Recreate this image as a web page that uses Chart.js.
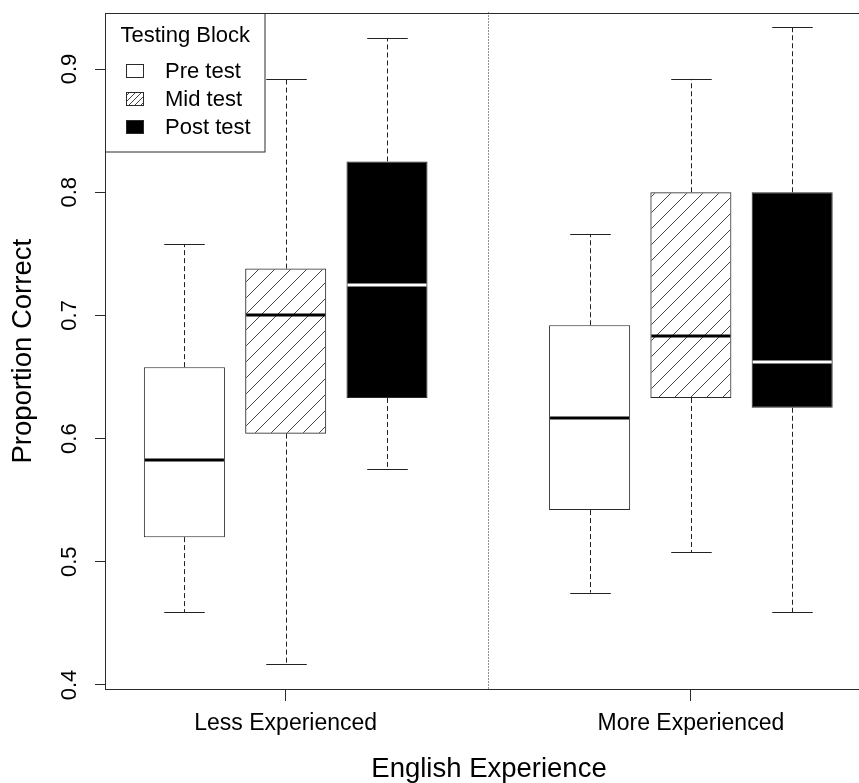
<!DOCTYPE html>
<html>
<head>
<meta charset="utf-8">
<script src="https://cdn.jsdelivr.net/npm/chart.js@4.4.1/dist/chart.umd.min.js"></script>
<style>
  html, body { margin: 0; padding: 0; background: #ffffff; overflow: hidden; }
  canvas { display: block; }
</style>
</head>
<body>
<canvas id="chart" width="872" height="783"></canvas>
<script>
// Groups along the x axis and the testing blocks inside each group
const groups = ['Less Experienced', 'More Experienced'];
const blocks = ['Pre test', 'Mid test', 'Post test'];

// Five-number summaries per group: [lower whisker, Q1, median, Q3, upper whisker]
const preTest  = [[0.459, 0.520, 0.583, 0.658, 0.758], [0.475, 0.542, 0.617, 0.692, 0.766]];
const midTest  = [[0.417, 0.604, 0.700, 0.738, 0.892], [0.508, 0.633, 0.683, 0.800, 0.892]];
const postTest = [[0.575, 0.633, 0.725, 0.825, 0.925], [0.459, 0.625, 0.662, 0.800, 0.934]];

const yTicks = [0.4, 0.5, 0.6, 0.7, 0.8, 0.9];

const summaries = [preTest, midTest, postTest];
const FONT = "'Liberation Sans', Arial, Helvetica, sans-serif";
const INK = '#2a2a2a';

// Diagonal "/" hatching
function hatch(period, color) {
  const c = document.createElement('canvas');
  c.width = period; c.height = period;
  const g = c.getContext('2d');
  g.strokeStyle = color;
  g.lineWidth = 1;
  g.beginPath();
  for (const o of [-period, 0, period]) {
    g.moveTo(o - 1, period + 1);
    g.lineTo(o + period + 1, -1);
  }
  g.stroke();
  return g.createPattern(c, 'repeat');
}

const boxFills = ['#ffffff', hatch(16, '#444444'), '#000000'];
const keyFills = ['#ffffff', hatch(6, '#444444'), '#000000'];
const medianColors = ['#000000', '#000000', '#ffffff'];

// slot on the x axis: three boxes per group, one empty slot between groups
const slot = (gi, bi) => gi * 4 + bi + 1;

const boxParts = {
  id: 'boxParts',
  beforeDatasetsDraw(chart) {
    const { ctx, chartArea: a, scales: { x, y } } = chart;
    ctx.save();
    ctx.lineWidth = 1;
    ctx.strokeStyle = '#222222';

    // dotted divider between the two groups
    const xd = Math.round(x.getPixelForValue(4)) + 0.5;
    ctx.setLineDash([1, 2]);
    ctx.beginPath();
    ctx.moveTo(xd, a.top);
    ctx.lineTo(xd, a.bottom);
    ctx.stroke();

    // whiskers and staples
    blocks.forEach((b, bi) => {
      const meta = chart.getDatasetMeta(bi);
      groups.forEach((g, gi) => {
        const s = summaries[bi][gi];
        const bar = meta.data[gi];
        const cx = Math.round(bar.x) + 0.5;
        const half = bar.width / 2;
        ctx.setLineDash([5, 3]);
        ctx.beginPath();
        ctx.moveTo(cx, y.getPixelForValue(s[3]));
        ctx.lineTo(cx, y.getPixelForValue(s[4]));
        ctx.moveTo(cx, y.getPixelForValue(s[1]));
        ctx.lineTo(cx, y.getPixelForValue(s[0]));
        ctx.stroke();
        ctx.setLineDash([]);
        ctx.beginPath();
        for (const v of [s[0], s[4]]) {
          const py = Math.round(y.getPixelForValue(v)) + 0.5;
          ctx.moveTo(cx - half / 2, py);
          ctx.lineTo(cx + half / 2, py);
        }
        ctx.stroke();
      });
    });
    ctx.restore();
  },
  afterDatasetsDraw(chart) {
    const { ctx, chartArea: a, scales: { y } } = chart;
    ctx.save();

    // medians
    ctx.lineWidth = 3;
    blocks.forEach((b, bi) => {
      const meta = chart.getDatasetMeta(bi);
      groups.forEach((g, gi) => {
        const bar = meta.data[gi];
        const half = bar.width / 2;
        const py = Math.round(y.getPixelForValue(summaries[bi][gi][2]));
        ctx.strokeStyle = medianColors[bi];
        ctx.beginPath();
        ctx.moveTo(bar.x - half + 1, py);
        ctx.lineTo(bar.x + half - 1, py);
        ctx.stroke();
      });
    });

    // plot frame
    ctx.lineWidth = 1;
    ctx.strokeStyle = INK;
    const l = Math.round(a.left) - 0.5, t = Math.round(a.top) + 0.5;
    const r = Math.round(a.right) - 0.5, btm = Math.round(a.bottom) - 0.5;
    ctx.strokeRect(l, t, r - l, btm - t);

    // key
    const kw = 159.5, kh = 138.5;
    ctx.fillStyle = '#ffffff';
    ctx.fillRect(l, t, kw, kh);
    ctx.strokeRect(l, t, kw, kh);
    ctx.fillStyle = '#000000';
    ctx.font = '22px ' + FONT;
    ctx.textBaseline = 'alphabetic';
    ctx.textAlign = 'center';
    ctx.fillText('Testing Block', l + kw / 2, t + 28.5);
    ctx.textAlign = 'left';
    blocks.forEach((b, bi) => {
      const base = t + 64.8 + bi * 28;
      const bx = Math.round(l + 20) + 0.5, by = Math.round(base - 14.5) + 0.5;
      ctx.fillStyle = keyFills[bi];
      ctx.fillRect(bx, by, 17, 13);
      ctx.strokeStyle = INK;
      ctx.strokeRect(bx, by, 17, 13);
      ctx.fillStyle = '#000000';
      ctx.fillText(b, l + 59.5, base);
    });
    ctx.restore();
  }
};

new Chart(document.getElementById('chart'), {
  type: 'bar',
  data: {
    datasets: blocks.map((b, bi) => ({
      label: b,
      data: groups.map((g, gi) => ({ x: slot(gi, bi), y: [summaries[bi][gi][1], summaries[bi][gi][3]] })),
      backgroundColor: boxFills[bi],
      borderColor: INK,
      borderWidth: 1,
      borderSkipped: false,
      grouped: false,
      barPercentage: 0.8,
      categoryPercentage: 1
    }))
  },
  options: {
    responsive: false,
    animation: false,
    events: [],
    layout: { padding: { top: 12.5, left: 0, right: 0, bottom: 0 } },
    plugins: { legend: { display: false }, tooltip: { enabled: false } },
    scales: {
      x: {
        type: 'linear',
        offset: false,
        min: 0.226,
        max: 7.788,
        afterBuildTicks: s => { s.ticks = groups.map((g, i) => ({ value: slot(i, 1) })); },
        afterFit: s => { s.height = 93; s.paddingLeft = 0; s.paddingRight = 0; },
        grid: { offset: false, drawOnChartArea: false, drawTicks: true, tickLength: 11, color: INK, lineWidth: 1 },
        border: { display: false },
        ticks: {
          autoSkip: false, maxRotation: 0, minRotation: 0, padding: 9, color: '#000000',
          font: { family: FONT, size: 23 },
          callback: v => groups[(v - 2) / 4]
        },
        title: {
          display: true, text: 'English Experience', color: '#000000',
          font: { family: FONT, size: 27.5, lineHeight: 1 },
          padding: { top: 0, bottom: 0 }
        }
      },
      y: {
        type: 'linear',
        min: 0.3959,
        max: 0.9459,
        afterBuildTicks: s => { s.ticks = yTicks.map(v => ({ value: v })); },
        afterFit: s => { s.width = 106; s.paddingTop = 0; s.paddingBottom = 0; },
        grid: { drawOnChartArea: false, drawTicks: true, tickLength: 11, color: INK, lineWidth: 1 },
        border: { display: false },
        ticks: {
          autoSkip: false, minRotation: 90, maxRotation: 90, crossAlign: 'center', padding: 9.5,
          color: '#000000', font: { family: FONT, size: 22 },
          callback: v => v.toFixed(1)
        },
        title: {
          display: true, text: 'Proportion Correct', color: '#000000',
          font: { family: FONT, size: 27.5, lineHeight: 1 },
          padding: { top: 9.5, bottom: 0 }
        }
      }
    }
  },
  plugins: [boxParts]
});
</script>
</body>
</html>
